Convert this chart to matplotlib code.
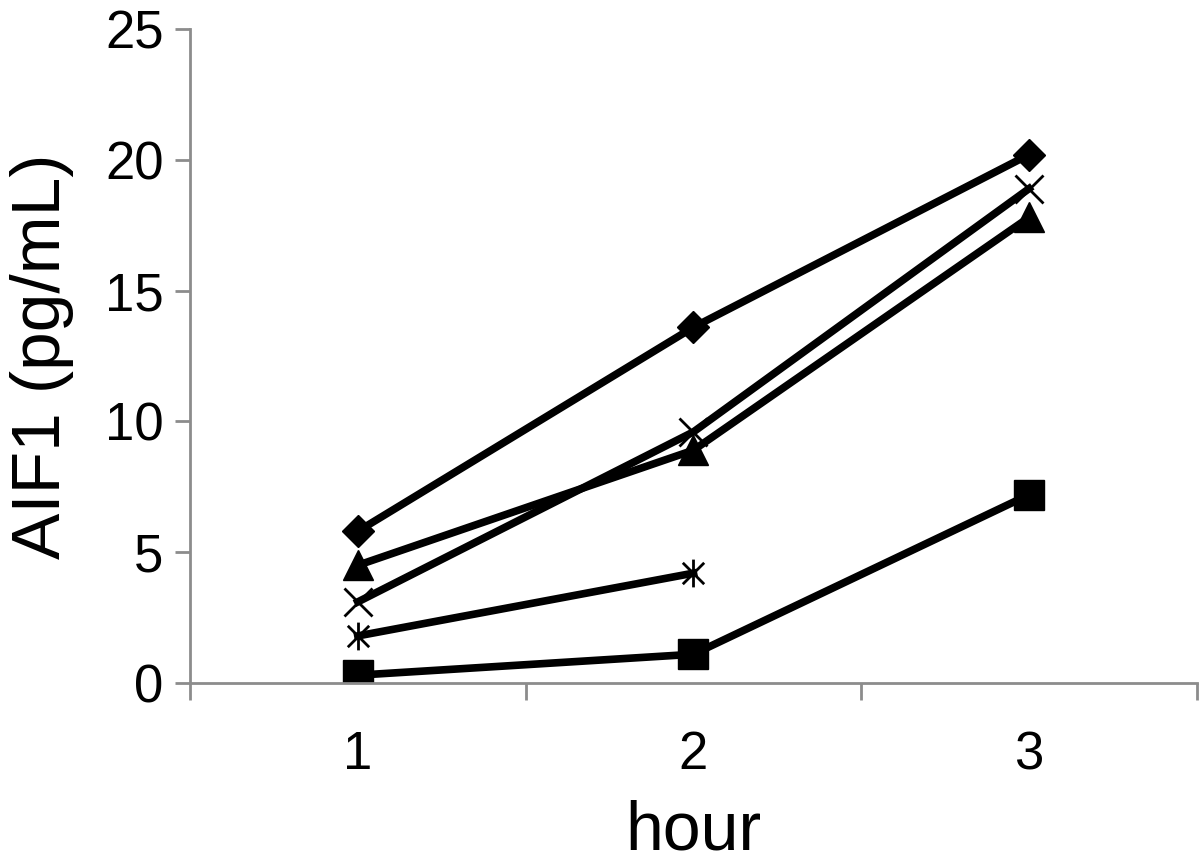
import matplotlib.pyplot as plt
from matplotlib.path import Path
from matplotlib.ticker import FixedLocator

plt.rcParams['font.family'] = ['Liberation Sans', 'DejaVu Sans']

# datos
horas = [1, 2, 3]
serie_rombo = [5.8, 13.6, 20.2]
serie_triangulo = [4.5, 8.9, 17.8]
serie_x = [3.1, 9.6, 18.9]
serie_asterisco = [1.8, 4.2]
serie_cuadrado = [0.3, 1.1, 7.2]

# marcador asterisco estilo Excel (x con linea vertical)
asterisco = Path([(-1, -1), (1, 1), (-1, 1), (1, -1), (0, -1.3), (0, 1.3)],
                 [Path.MOVETO, Path.LINETO, Path.MOVETO, Path.LINETO,
                  Path.MOVETO, Path.LINETO])

fig = plt.figure(figsize=(12, 8.67), dpi=100)
ax = fig.add_axes([0.1583, 0.2122, 0.8392, 0.7544])

lw = 5.5
ax.plot(horas, serie_cuadrado, color='black', lw=lw, marker='s', ms=21)
ax.plot(horas[:2], serie_asterisco, color='black', lw=lw, marker=asterisco,
        ms=20, mew=2)
ax.plot(horas, serie_x, color='black', lw=lw, marker='x', ms=20, mew=2)
ax.plot(horas, serie_triangulo, color='black', lw=lw, marker='^', ms=21)
ax.plot(horas, serie_rombo, color='black', lw=lw, marker='D', ms=16)

ax.set_xlim(0.5, 3.5)
ax.set_ylim(0, 25)
ax.set_yticks([0, 5, 10, 15, 20, 25])
ax.set_xticks(horas)
ax.xaxis.set_minor_locator(FixedLocator([0.5, 1.5, 2.5, 3.5]))

gris = '#8c8c8c'
for s in ['top', 'right']:
    ax.spines[s].set_visible(False)
for s in ['left', 'bottom']:
    ax.spines[s].set_color(gris)
    ax.spines[s].set_linewidth(2)

ax.tick_params(axis='y', direction='out', length=11, width=2, color=gris,
               labelsize=38, pad=8)
ax.tick_params(axis='x', which='major', length=0, labelsize=38, pad=34)
ax.tick_params(axis='x', which='minor', direction='out', length=12, width=2,
               color=gris)

ax.set_xlabel('hour', fontsize=49, labelpad=14)
ax.set_ylabel('AIF1 (pg/mL)', fontsize=50, labelpad=22)

fig.savefig('out.png', dpi=100)
